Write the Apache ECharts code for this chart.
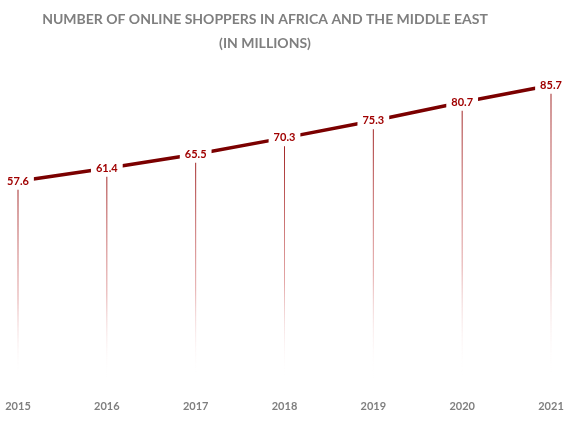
<!DOCTYPE html>
<html><head><meta charset="utf-8">
<script src="https://cdn.jsdelivr.net/npm/echarts@6/dist/echarts.min.js"></script>
<style>html,body{margin:0;padding:0;background:#fff}#c{width:578px;height:421px}</style>
</head><body><div id="c"></div>
<script>
const years = ['2015','2016','2017','2018','2019','2020','2021'];
const shoppers = [57.6, 61.4, 65.5, 70.3, 75.3, 80.7, 85.7];
const chart = echarts.init(document.getElementById('c'));
chart.setOption({
  animation: false,
  title: {
    text: 'NUMBER OF ONLINE SHOPPERS IN AFRICA AND THE MIDDLE EAST\n(IN MILLIONS)',
    left: 260, top: 2, textAlign: 'center',
    textStyle: {fontFamily: 'Lato', fontWeight: 'bold', fontSize: 14, color: '#7f7f7f', lineHeight: 24}
  },
  grid: {left: 18, right: 27, top: 36.4, bottom: 43},
  xAxis: {
    type: 'category', data: years, boundaryGap: false,
    axisLine: {show: false}, axisTick: {show: false},
    axisLabel: {margin: 23, color: '#7f7f7f', fontWeight: 'bold', fontSize: 11, fontFamily: 'Lato'}
  },
  yAxis: {type: 'value', min: 0, max: 100, show: false, splitLine: {show: false}},
  series: [
    {
      type: 'bar', data: shoppers, barWidth: 1, z: 1,
      itemStyle: {color: new echarts.graphic.LinearGradient(0, 0, 0, 1, [
        {offset: 0, color: 'rgba(150,15,15,0.95)'},
        {offset: 0.6, color: 'rgba(200,80,80,0.5)'},
        {offset: 1, color: 'rgba(255,255,255,0)'}
      ])}
    },
    {
      type: 'line', data: shoppers, z: 3,
      symbol: 'circle', symbolSize: 0, showSymbol: true,
      lineStyle: {color: '#7b0000', width: 3.5},
      itemStyle: {color: '#7b0000'},
      label: {
        show: true, position: 'inside', color: '#a00000', fontWeight: 'bold', fontSize: 11,
        fontFamily: 'Lato', backgroundColor: '#fff', padding: [3, 5]
      }
    }
  ]
});
</script></body></html>
